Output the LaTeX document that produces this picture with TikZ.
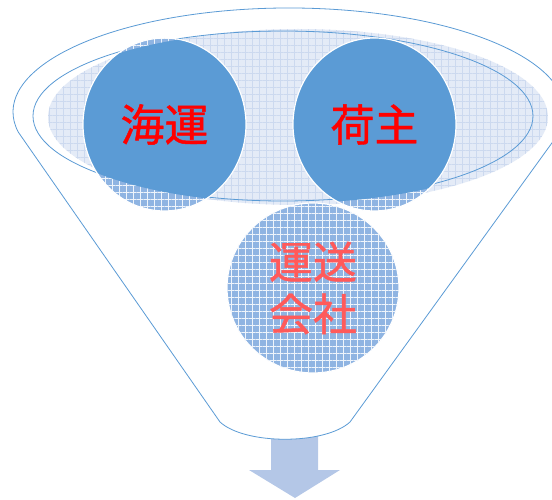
\documentclass[tikz,border=0pt]{standalone}
\usepackage{fontspec}
\newfontfamily\jpfont{Noto Sans CJK JP}[FakeBold=1]
\usetikzlibrary{patterns.meta,shapes.geometric}
\definecolor{fline}{HTML}{5B9BD5}
\definecolor{solidblue}{HTML}{5B9BD5}
\definecolor{patlight}{HTML}{E4EBF7}
\definecolor{patlightline}{HTML}{CCD9EF}
\definecolor{patdark}{HTML}{8FB4E2}
\definecolor{arrowc}{HTML}{B4C7E7}
\definecolor{txtred}{HTML}{FF0000}
\definecolor{txtlight}{HTML}{FF5A5A}
\tikzset{
  funnelline/.style={draw=fline, line width=0.8pt},
  lightpat/.style={fill=patlight, postaction={pattern={Hatch[angle=0,distance=7pt,line width=0.7pt]}, pattern color=patlightline}},
  darkpat/.style={fill=patdark, postaction={pattern={Hatch[angle=0,distance=7pt,line width=0.7pt]}, pattern color=white!85!patdark}},
  bubble/.style={ellipse, inner sep=0pt, draw=white, line width=1.2pt, minimum width=163pt, minimum height=173pt},
  bigtext/.style={font=\jpfont\fontsize{44}{52}\selectfont},
}
\begin{document}
\begin{tikzpicture}[x=1pt,y=-1pt]
\useasboundingbox (0,0) rectangle (552,500);
% arrow below funnel
\fill[arrowc] (271,436) -- (318,436) -- (318,470) -- (340,470) -- (295,498) -- (249,470) -- (271,470) -- cycle;
% funnel body
\path[funnelline, fill=white] (18.2,132) arc[start angle=168.9, end angle=371.1, x radius=276, y radius=104]
  -- (350,422) .. controls (325,445) and (245,445) .. (220,422) -- cycle;
% patterned top ellipse
\path[lightpat] (298,117) ellipse [x radius=250, y radius=88];
\draw[funnelline] (283,116) ellipse [x radius=250, y radius=85];
% third circle
\node[bubble, darkpat, minimum width=172pt, minimum height=170pt, text=txtlight, align=center, bigtext] (c3) at (313,288) {運送\\会社};
% two upper bubbles: patterned base, solid inside the top ellipse
\path[darkpat] (164.5,124.5) ellipse [x radius=81.5, y radius=86.5];
\path[darkpat] (374.5,124.5) ellipse [x radius=81.5, y radius=86.5];
\begin{scope}
  \clip (288,117) ellipse [x radius=252, y radius=86];
  \fill[solidblue] (164.5,124.5) ellipse [x radius=81.5, y radius=86.5];
  \fill[solidblue] (374.5,124.5) ellipse [x radius=81.5, y radius=86.5];
\end{scope}
\node[bubble, text=txtred, bigtext] (c1) at (164.5,124.5) {海運};
\node[bubble, text=txtred, bigtext] (c2) at (374.5,124.5) {荷主};
\end{tikzpicture}
\end{document}
